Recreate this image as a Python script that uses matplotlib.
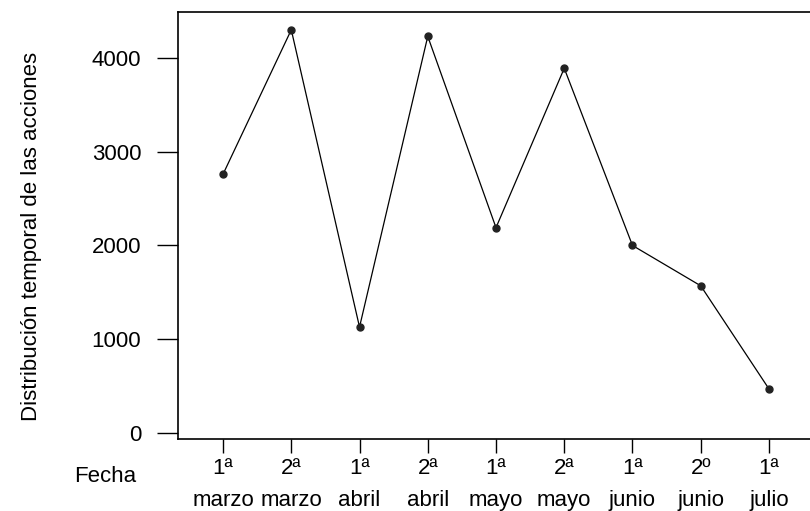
import matplotlib.pyplot as plt

# Data
labels = ['1ª\nmarzo', '2ª\nmarzo', '1ª\nabril', '2ª\nabril', '1ª\nmayo',
          '2ª\nmayo', '1ª\njunio', '2º\njunio', '1ª\njulio']
acciones = [2760, 4300, 1130, 4230, 2190, 3890, 2000, 1570, 470]
yticks = [0, 1000, 2000, 3000, 4000]

plt.rcParams['font.family'] = ['Liberation Sans', 'DejaVu Sans']

fig = plt.figure(figsize=(8.1, 5.11), dpi=100)
ax = fig.add_axes([178 / 810, 1 - 439 / 511, 1 - 178 / 810 + 0.01, (439 - 12) / 511])

x = list(range(len(acciones)))
ax.plot(x, acciones, color='black', linewidth=0.9, marker='o', markersize=5,
        markerfacecolor='#222222', markeredgecolor='#222222')

ax.set_xlim(-0.66, 8.72)
ax.set_ylim(-64, 4490)
ax.set_xticks(x)
ax.set_xticklabels(labels, fontsize=16, linespacing=1.65)
ax.set_yticks(yticks)
ax.tick_params(axis='y', length=15, width=1, labelsize=16, pad=11.5, direction='out')
ax.tick_params(axis='x', length=10, width=1, pad=4, direction='out')
for s in ['left', 'top', 'bottom']:
    ax.spines[s].set_linewidth(1.2)
ax.spines['right'].set_visible(False)

fig.text(32 / 810, 1 - 236 / 511, 'Distribución temporal de las acciones',
         fontsize=16, rotation=90, ha='center', va='center')
fig.text(105 / 810, 1 - 476 / 511, 'Fecha', fontsize=16, ha='center', va='center')

fig.savefig('out.png', dpi=100)
